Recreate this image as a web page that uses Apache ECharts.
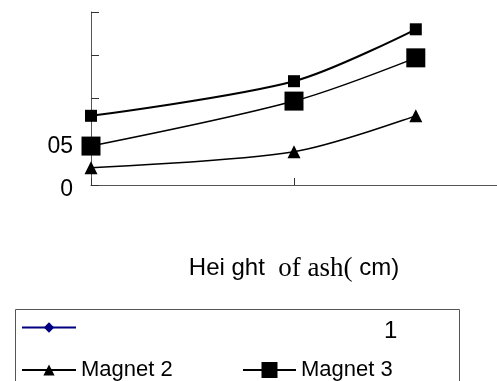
<!DOCTYPE html>
<html>
<head>
<meta charset="utf-8">
<script src="https://cdn.jsdelivr.net/npm/echarts@6/dist/echarts.min.js"></script>
<style>html,body{margin:0;padding:0;background:#fff;}#c{width:497px;height:381px;}</style>
</head>
<body>
<div id="c"></div>
<script>
var xValues = [0, 10, 16];
var magnet1 = [];
var magnet2 = [0.20, 0.385, 0.80];
var magnet3 = [0.45, 0.97, 1.47];
var series4 = [0.80, 1.20, 1.80];
var yTickLabels = { '0': '0', '0.5': '05' };
var legendLabels = { 'Magnet 1': '', 'Magnet 2': 'Magnet 2', 'Magnet 3': 'Magnet 3' };

function pairs(vals) {
  return vals.map(function (v, i) { return [xValues[i], v]; });
}

var chart = echarts.init(document.getElementById('c'), null, { renderer: 'canvas' });
var sans = 'Liberation Sans, Arial, sans-serif';
var serif = 'Liberation Serif, Times New Roman, serif';

chart.setOption({
  animation: false,
  backgroundColor: '#fff',
  grid: { left: 91, right: -8, top: 12, bottom: 196, containLabel: false },
  xAxis: {
    type: 'value', min: 0, max: 20, interval: 10,
    axisLine: { show: true, lineStyle: { color: '#555', width: 1 } },
    axisTick: { show: true, inside: true, length: 7, lineStyle: { color: '#333' } },
    axisLabel: { show: false },
    splitLine: { show: false },
    name: '{a|Hei ght }{b| of ash(}{c| cm)}',
    nameLocation: 'middle',
    nameGap: 70,
    nameTextStyle: {
      rich: {
        a: { fontFamily: sans, fontSize: 24, color: '#000' },
        b: { fontFamily: serif, fontSize: 27, color: '#000' },
        c: { fontFamily: sans, fontSize: 24, color: '#000' }
      }
    }
  },
  yAxis: {
    type: 'value', min: 0, max: 2, interval: 0.5,
    axisLine: { show: true, lineStyle: { color: '#555', width: 1 } },
    axisTick: { show: true, inside: true, length: 8, lineStyle: { color: '#333' } },
    axisLabel: {
      margin: 18, color: '#000',
      formatter: function (v) {
        var t = yTickLabels[String(v)];
        return t !== undefined ? '{l|' + t + '}' : '';
      },
      rich: { l: { fontFamily: sans, fontSize: 23, color: '#000', padding: [10, 0, 0, 0] } }
    },
    splitLine: { show: false }
  },
  legend: [
    { data: ['Magnet 1'], left: 21, top: 321, padding: 0, itemWidth: 54, itemHeight: 13,
      formatter: function (n) { return legendLabels[n]; },
      textStyle: { fontFamily: sans, fontSize: 22, color: '#000' } },
    { data: ['Magnet 2'], left: 21, top: 359, padding: 0, itemWidth: 54, itemHeight: 14,
      formatter: function (n) { return legendLabels[n]; },
      textStyle: { fontFamily: sans, fontSize: 22, color: '#000' } },
    { data: ['Magnet 3'], left: 242, top: 359, padding: 0, itemWidth: 53, itemHeight: 20,
      formatter: function (n) { return legendLabels[n]; },
      textStyle: { fontFamily: sans, fontSize: 22, color: '#000' } }
  ],
  graphic: [
    { type: 'rect', left: 13, top: 307, z: 0, silent: true,
      shape: { x: 0, y: 0, width: 444, height: 110 },
      style: { fill: 'none', stroke: '#555', lineWidth: 1 } },
    { type: 'text', left: 384, top: 319, silent: true,
      style: { text: '1', font: '24px ' + sans, fill: '#000' } }
  ],
  series: [
    { name: 'Magnet 1', type: 'line', data: pairs(magnet1), symbol: 'diamond', symbolSize: 10,
      itemStyle: { color: '#000080' }, lineStyle: { color: '#000080', width: 1.5 } },
    { name: 'Series 4', type: 'line', data: pairs(series4), symbol: 'rect', symbolSize: 12, smooth: 0.3,
      itemStyle: { color: '#000' }, lineStyle: { color: '#000', width: 2 } },
    { name: 'Magnet 3', type: 'line', data: pairs(magnet3), symbol: 'rect', symbolSize: 19, smooth: 0.3,
      itemStyle: { color: '#000' }, lineStyle: { color: '#000', width: 1.5 } },
    { name: 'Magnet 2', type: 'line', data: pairs(magnet2), symbol: 'triangle', symbolSize: 13, smooth: 0.3,
      itemStyle: { color: '#000' }, lineStyle: { color: '#000', width: 1.5 } }
  ]
});
</script>
</body>
</html>
